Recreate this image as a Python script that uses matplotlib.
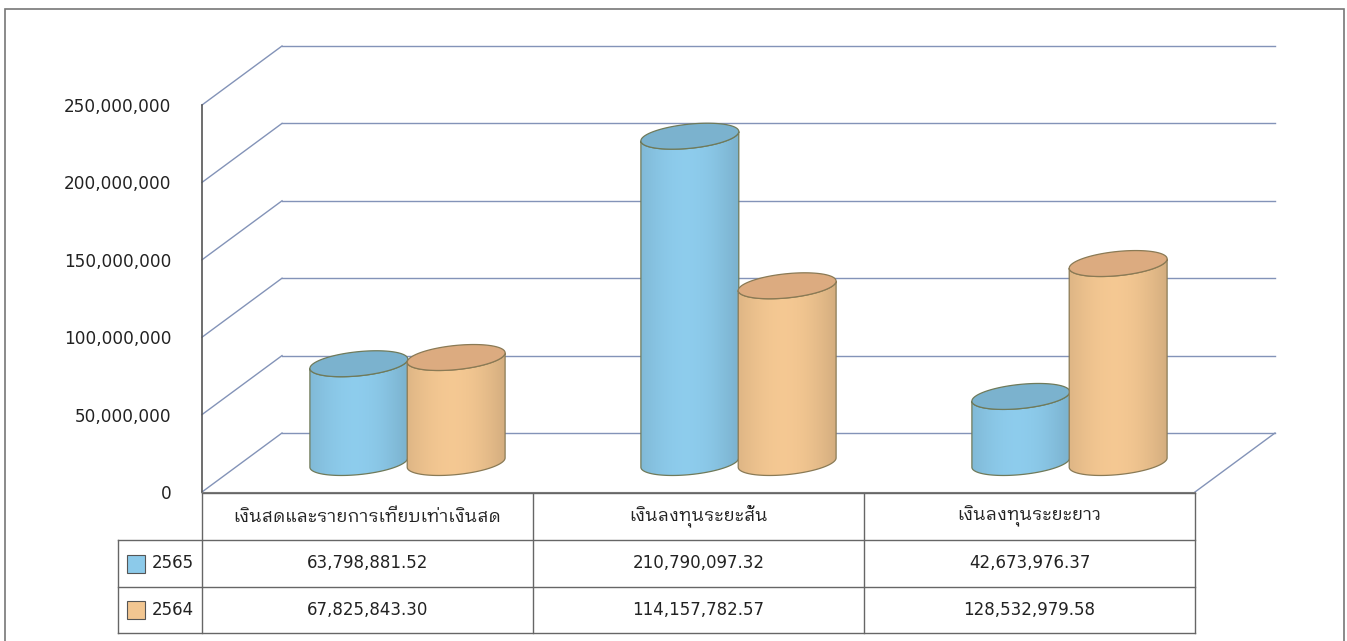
import numpy as np
import matplotlib
matplotlib.use("Agg")
import matplotlib.pyplot as plt
import matplotlib.transforms as mtransforms
from matplotlib import font_manager
from matplotlib.ft2font import FT2Font
from matplotlib.patches import Polygon, Rectangle
from matplotlib.ticker import FuncFormatter

# data
categories = ['เงินสดและรายการเทียบเท่าเงินสด', 'เงินลงทุนระยะสั้น', 'เงินลงทุนระยะยาว']
series_names = ['2565', '2564']
values_2565 = [63798881.52, 210790097.32, 42673976.37]
values_2564 = [67825843.30, 114157782.57, 128532979.58]
y_ticks = [0, 50e6, 100e6, 150e6, 200e6, 250e6]


def find_thai_font():
    # pick an installed family that actually has Thai glyphs
    preferred = []
    others = []
    for f in font_manager.fontManager.ttflist:
        try:
            cmap = FT2Font(f.fname).get_charmap()
        except Exception:
            continue
        if 0x0E07 in cmap and 0x0E34 in cmap:
            if 'Looped' in f.name or 'Tahoma' in f.name:
                preferred.append(f.name)
            else:
                others.append(f.name)
    found = preferred + sorted(others)
    return found[0] if found else 'DejaVu Sans'


thai = find_thai_font()
plt.rcParams['font.family'] = [thai, 'DejaVu Sans']

W, H = 1347, 641
fig = plt.figure(figsize=(W / 100, H / 100), dpi=100)
fig.patch.set_facecolor('white')

# front plane of the 3D box: x 202..1195 px, y 492..105 px
ax = fig.add_axes([202 / W, (H - 492) / H, 993 / W, 387 / H])
ax.set_xlim(0, 3)
ax.set_ylim(0, 250e6)
ax.patch.set_alpha(0)

DX = 80 / 331      # depth shift in category units
DY = 59 / 387 * 250e6  # depth shift in value units


def proj(x, y, z):
    return x + z * DX, y + z * DY


grid_col = '#8393b8'
for v in y_ticks:
    bx0, by = proj(0, v, 1)
    bx1, _ = proj(3, v, 1)
    ax.plot([bx0, bx1], [by, by], color=grid_col, lw=1, zorder=1, clip_on=False)
    ax.plot([0, bx0], [v, by], color=grid_col, lw=1, zorder=1, clip_on=False)
rx, ry = proj(3, 0, 1)
ax.plot([3, rx], [0, ry], color=grid_col, lw=1, zorder=1, clip_on=False)

# axis styling: left spine = front vertical axis, bottom spine = front floor edge
for s in ['top', 'right']:
    ax.spines[s].set_visible(False)
ax.spines['left'].set_color('#555555')
ax.spines['bottom'].set_color('#777777')
ax.spines['left'].set_linewidth(1.2)
ax.set_xticks([])
ax.set_yticks(y_ticks)
ax.yaxis.set_major_formatter(FuncFormatter(lambda v, p: f'{v:,.0f}'))
ax.tick_params(axis='y', length=0, pad=22, labelsize=12.2, labelcolor='#222222')
for lab in ax.get_yticklabels():
    lab.set_fontfamily(['DejaVu Sans'])

# cylinders
R_X = 0.138   # radius along x (category units)
R_D = 0.22    # radius along depth (depth units)
Z0 = 0.5
OFFSETS = [-0.147, 0.147]
styles = [
    dict(side='#8ccaea', top='#7bb2ce', edge='#6f7a5a'),
    dict(side='#f2c691', top='#dcab80', edge='#8a7a55'),
]


def shade(base, n=60):
    c = np.array(matplotlib.colors.to_rgb(base))
    t = np.linspace(0, 1, n)
    f = 0.9 + 0.13 * np.sin(np.pi * (t * 0.9 + 0.05)) - 0.04 * t
    img = np.clip(c[None, :] * f[:, None], 0, 1)
    return img[None, :, :]


def cylinder(xc, val, st, z):
    t = np.linspace(0, 2 * np.pi, 200)
    def ell(h, tt):
        xs = xc + R_X * np.cos(tt) + (Z0 + R_D * np.sin(tt)) * DX
        ys = h + (Z0 + R_D * np.sin(tt)) * DY
        return xs, ys
    tr = np.arctan2(R_D * DX, R_X)
    tl = tr + np.pi
    tf = np.linspace(tl, tr + 2 * np.pi, 120)
    bx, by = ell(0, tf)
    tx, ty = ell(val, tf[::-1])
    side = np.column_stack([np.r_[bx, tx], np.r_[by, ty]])
    poly = Polygon(side, closed=True, facecolor='none', edgecolor=st['edge'],
                   lw=0.9, zorder=z + 0.2)
    ax.add_patch(poly)
    xl, xr = bx.min(), bx.max()
    im = ax.imshow(shade(st['side']), extent=[xl, xr, by.min(), ty.max()],
                   aspect='auto', zorder=z, interpolation='bilinear')
    im.set_clip_path(poly)
    cx, cy = ell(val, t)
    ax.add_patch(Polygon(np.column_stack([cx, cy]), closed=True,
                         facecolor=st['top'], edgecolor=st['edge'], lw=0.9,
                         zorder=z + 0.3))


all_vals = [values_2565, values_2564]
for i in range(len(categories)):
    for s in range(2):
        cylinder(i + 0.5 + OFFSETS[s], all_vals[s][i], styles[s], 3 + i + s * 0.5)

ax.set_xlim(0, 3)
ax.set_ylim(0, 250e6)

# data table below the floor: x in category units, y in figure pixels
trans = mtransforms.blended_transform_factory(ax.transData, fig.transFigure)
def fy(px):
    return 1 - px / H

line_col = '#666666'
leg_x = (118 - 202) / 331
rows = [493, 540, 587, 633]
ax.plot([0, 3], [fy(rows[0])] * 2, color=line_col, lw=1, transform=trans, clip_on=False)
for r in rows[1:]:
    ax.plot([leg_x, 3], [fy(r)] * 2, color=line_col, lw=1, transform=trans, clip_on=False)
for c in [0, 1, 2, 3]:
    ax.plot([c, c], [fy(rows[0]), fy(rows[3])], color=line_col, lw=1,
            transform=trans, clip_on=False)
ax.plot([leg_x, leg_x], [fy(rows[1]), fy(rows[3])], color=line_col, lw=1,
        transform=trans, clip_on=False)

for i, name in enumerate(categories):
    ax.text(i + 0.5, fy((rows[0] + rows[1]) / 2), name, transform=trans,
            ha='center', va='center', fontsize=13, color='#222222')
    for s in range(2):
        ax.text(i + 0.5, fy((rows[s + 1] + rows[s + 2]) / 2), f'{all_vals[s][i]:,.2f}',
                transform=trans, ha='center', va='center', fontsize=12,
                color='#222222', family=['DejaVu Sans'])

sw = 18 / 331
for s in range(2):
    ymid = (rows[s + 1] + rows[s + 2]) / 2
    ax.add_patch(Rectangle(((127 - 202) / 331, fy(ymid + 9)), sw, 18 / H,
                           facecolor=styles[s]['side'], edgecolor='#555555', lw=0.8,
                           transform=trans, clip_on=False))
    ax.text((152 - 202) / 331, fy(ymid), series_names[s], transform=trans,
            ha='left', va='center', fontsize=12, color='#222222',
            family=['DejaVu Sans'])

# outer chart frame
fig.add_artist(Rectangle((5 / W, -0.01), 1339 / W, fy(9) + 0.01, transform=fig.transFigure,
                         fill=False, edgecolor='#777777', lw=1.2))

fig.savefig('out.png', dpi=100)
